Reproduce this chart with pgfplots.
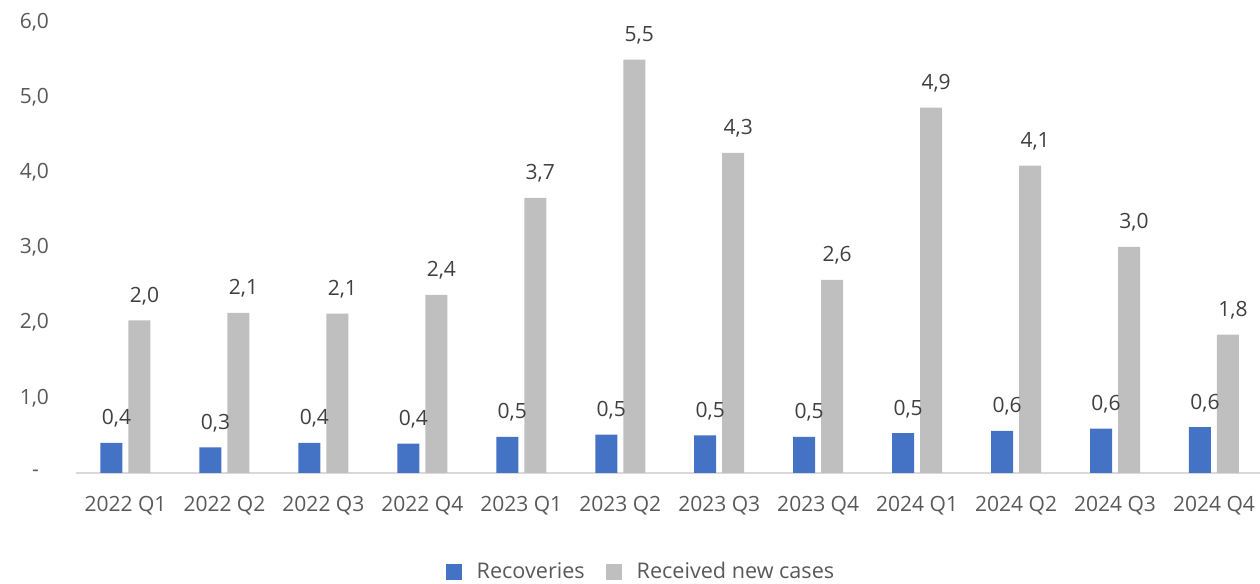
\documentclass[border=0pt]{standalone}
\usepackage{fontspec}
\setmainfont{Open Sans}
\usepackage{pgfplots}
\pgfplotsset{compat=1.18}

\definecolor{recblue}{HTML}{4472C4}
\definecolor{newgray}{HTML}{BFBFBF}
\definecolor{ticktext}{HTML}{595959}
\definecolor{labeltext}{HTML}{404040}
\definecolor{baseline}{HTML}{D9D9D9}

% quarter index, recoveries, received new cases
\pgfplotstableread{
q   rec   new
0   0.40  2.03
1   0.34  2.13
2   0.40  2.12
3   0.39  2.37
4   0.48  3.66
5   0.51  5.50
6   0.50  4.26
7   0.48  2.57
8   0.53  4.86
9   0.56  4.09
10  0.59  3.01
11  0.61  1.84
}\quarters

\begin{document}
\begin{tikzpicture}[font=\fontsize{10.5pt}{12.6pt}\selectfont]
\useasboundingbox (0,0) rectangle (630pt,292pt);
\begin{axis}[
  at={(38pt,55.5pt)}, anchor=south west,
  scale only axis, width=592pt, height=225.5pt,
  ybar=3pt, bar width=11pt,
  xmin=-0.5, xmax=11.465, ymin=0, ymax=6,
  xtick={0,...,11},
  xticklabels={2022 Q1,2022 Q2,2022 Q3,2022 Q4,2023 Q1,2023 Q2,2023 Q3,2023 Q4,2024 Q1,2024 Q2,2024 Q3,2024 Q4},
  ytick={0,...,6},
  yticklabels={{-\hspace*{5pt}},{1,0},{2,0},{3,0},{4,0},{5,0},{6,0}},
  major tick length=0pt,
  axis x line*=bottom, axis y line*=left,
  x axis line style={draw=baseline, line width=1.1pt},
  y axis line style={draw=none},
  tick label style={text=ticktext},
  xticklabel style={anchor=base, yshift=-19.5pt},
  yticklabel style={anchor=east, xshift=-10pt},
  /pgf/number format/assume math mode=true,
  clip=false,
  nodes near coords={\pgfmathprintnumber[fixed, fixed zerofill, precision=1, use comma]{\pgfplotspointmeta}},
  nodes near coords style={text=labeltext, anchor=base, yshift=9pt, xshift=2.5pt},
  every axis plot post/.append style={
    legend image code/.code={\path[##1] (0pt,-4pt) rectangle (8pt,4pt);}},
  legend columns=2,
  legend style={at={(0.478,-0.2195)}, anchor=center, draw=none, fill=none,
    text=ticktext, inner sep=0pt, font=\fontsize{10.8pt}{13pt}\selectfont,
    /tikz/every odd column/.append style={column sep=5.5pt},
    /tikz/every even column/.append style={column sep=8.5pt}},
]
\addplot[fill=recblue, draw=none] table[x=q, y=rec] {\quarters};
\addlegendentry{Recoveries}
\addplot[fill=newgray, draw=none] table[x=q, y=new] {\quarters};
\addlegendentry{Received new cases}
\end{axis}
\end{tikzpicture}
\end{document}
